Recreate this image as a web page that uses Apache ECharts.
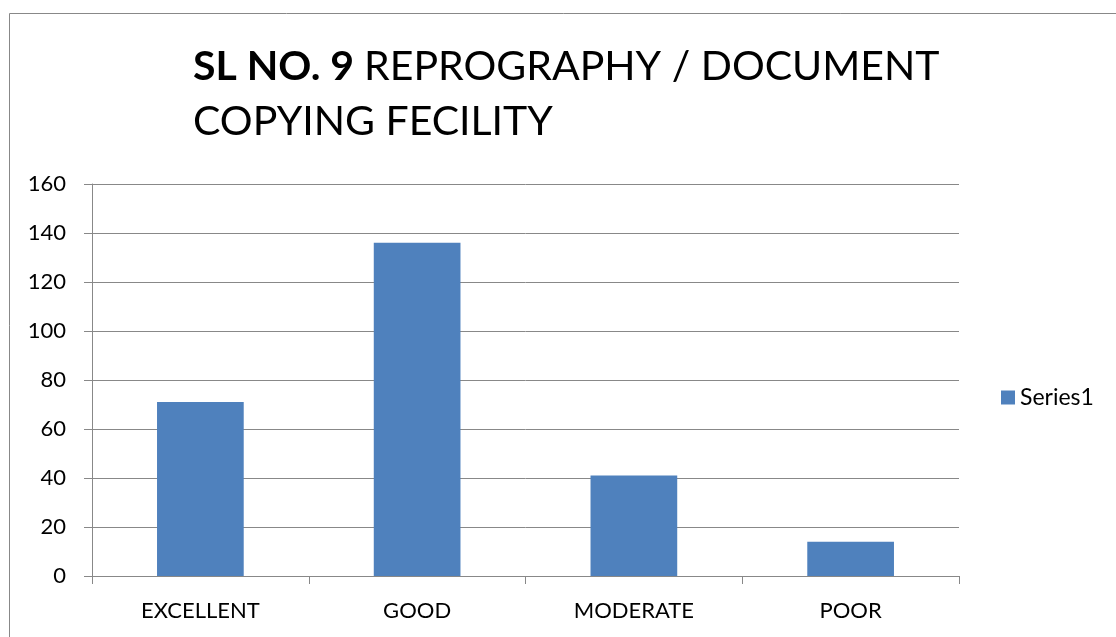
<!DOCTYPE html>
<html><head><meta charset="utf-8">
<script src="https://cdn.jsdelivr.net/npm/echarts@6/dist/echarts.min.js"></script>
<style>html,body{margin:0;padding:0;background:#fff}#c{width:1116px;height:637px}</style>
</head><body><div id="c"></div>
<script>
const categories = ['EXCELLENT', 'GOOD', 'MODERATE', 'POOR'];
const series1 = [71, 136, 41, 14];
const seriesName = 'Series1';
const yTicks = {min: 0, max: 160, interval: 20};

const chart = echarts.init(document.getElementById('c'));
const font = 'Lato, "Open Sans", sans-serif';
chart.setOption({
  animation: false,
  backgroundColor: '#fff',
  graphic: [{type: 'rect', shape: {x: 9.5, y: 13.5, width: 1200, height: 700}, style: {fill: 'none', stroke: '#888', lineWidth: 1}, silent: true}],
  title: {
    left: 193, top: 39, padding: 0,
    text: '{b|SL NO. 9 }{n|REPROGRAPHY / DOCUMENT}\n{n|COPYING FECILITY}',
    textStyle: {
      rich: {
        b: {fontFamily: font, fontSize: 41, fontWeight: 'bold', color: '#000', lineHeight: 55},
        n: {fontFamily: font, fontSize: 41, fontWeight: 'normal', color: '#000', lineHeight: 55}
      }
    }
  },
  legend: {
    left: 1001, top: 386, itemWidth: 14, itemHeight: 14, itemGap: 8, padding: 0,
    icon: 'rect',
    textStyle: {fontFamily: font, fontSize: 23, color: '#000'},
    data: [seriesName]
  },
  grid: {left: 92, right: 157, top: 184, bottom: 61, containLabel: false},
  xAxis: {
    type: 'category', data: categories,
    axisLine: {lineStyle: {color: '#888', width: 1}},
    axisTick: {show: true, length: 8, alignWithLabel: false, lineStyle: {color: '#888'}},
    axisLabel: {fontFamily: font, fontSize: 22, color: '#000', margin: 24}
  },
  yAxis: {
    type: 'value', min: yTicks.min, max: yTicks.max, interval: yTicks.interval,
    axisLine: {show: true, lineStyle: {color: '#888', width: 1}},
    axisTick: {show: true, length: 8, lineStyle: {color: '#888'}},
    splitLine: {lineStyle: {color: '#888', width: 1}},
    axisLabel: {fontFamily: font, fontSize: 22, color: '#000', margin: 26}
  },
  series: [{
    name: seriesName, type: 'bar', data: series1, barWidth: '40%',
    itemStyle: {color: '#4F81BD'}
  }]
});
</script></body></html>
